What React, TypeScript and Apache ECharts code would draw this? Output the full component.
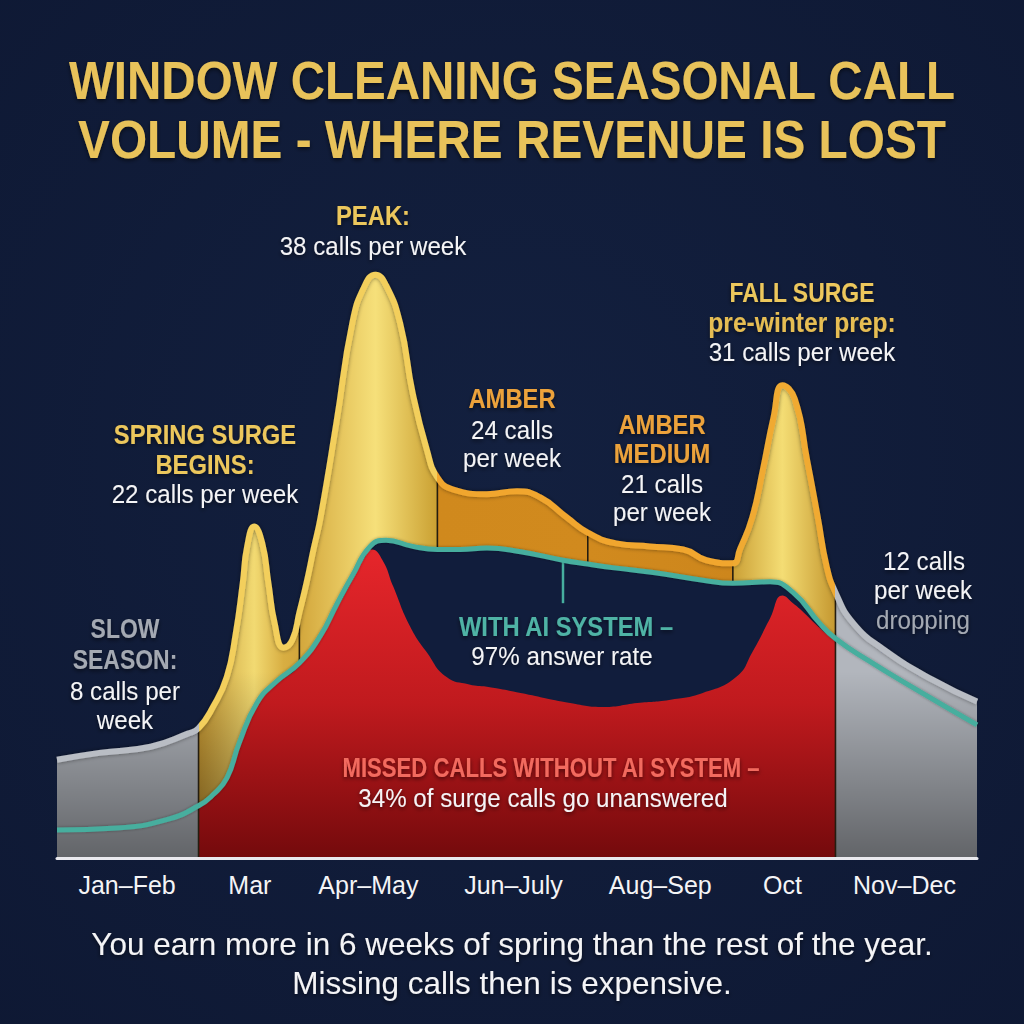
import React, { useEffect, useRef } from "react";
import * as echarts from "echarts";

// ---------- data ----------
const titleLines = ["WINDOW CLEANING SEASONAL CALL", "VOLUME - WHERE REVENUE IS LOST"];
const footerLines = [
  "You earn more in 6 weeks of spring than the rest of the year.",
  "Missing calls then is expensive.",
];

// period labels on the x axis (x = week of year)
const periodLabels = ["Jan–Feb", "Mar", "Apr–May", "Jun–July", "Aug–Sep", "Oct", "Nov–Dec"];
const periodLabelWeeks = [3.96, 10.9, 17.6, 25.8, 34.1, 41.0, 47.9];
// period boundaries (weeks)
const boundaryWeeks = [8, 13.7, 21.5, 30, 38.2, 44];

// total call volume (calls per week)
const totalWeeks = [0, 2.4, 5.3, 7.4, 8, 8.8, 9.6, 10.1, 10.5, 10.75, 11.15, 11.6, 11.95, 12.3, 12.8, 13.3, 13.7, 14.1, 14.5, 14.9, 15.8, 16.7, 17.4, 18.0, 18.6, 19.4, 20.1, 20.9, 21.5, 22.4, 24.3, 26.0, 27.3, 28.8, 30, 31.6, 33.5, 35.4, 36.7, 38.2, 38.6, 39.3, 39.9, 40.5, 41.0, 41.7, 42.4, 43.0, 43.5, 44, 45, 46.7, 49.5, 52];
const totalCalls = [6.4, 6.85, 7.25, 8.1, 8.45, 9.8, 11.8, 14.6, 17.9, 20.3, 21.6, 20.5, 17.9, 15.3, 13.7, 14.2, 16.0, 17.9, 20.1, 22.2, 28.4, 34.9, 37.3, 38.0, 37.3, 34.8, 30.3, 26.6, 24.8, 24.0, 23.7, 23.9, 23.5, 22.2, 21.2, 20.5, 20.3, 20.1, 19.4, 19.2, 20.1, 22.2, 25.3, 28.7, 30.8, 29.9, 25.9, 22.2, 19.0, 17.3, 15.3, 13.6, 11.6, 10.2];

// calls answered with AI system (teal line)
const aiWeeks = [0, 3.4, 6.2, 8, 8.8, 9.6, 10.3, 11.3, 12.4, 13.7, 14.9, 15.8, 16.7, 17.7, 18.6, 20.1, 21.5, 22.8, 24.3, 26.2, 28.6, 30, 31.5, 33.7, 36.5, 38.2, 40.3, 41.6, 43.1, 44, 45.8, 48.6, 52];
const aiCalls = [1.83, 1.96, 2.5, 3.4, 4.1, 5.2, 7.5, 10.1, 11.5, 12.7, 14.5, 16.5, 18.4, 20.3, 20.7, 20.3, 20.1, 20.1, 20.2, 19.95, 19.4, 19.15, 18.9, 18.6, 18.1, 17.9, 18.0, 17.3, 15.3, 14.3, 12.9, 10.95, 8.67];

// missed calls without AI system (red area)
const missedWeeks = [8, 8.8, 9.6, 10.3, 11.3, 12.4, 13.7, 14.9, 15.8, 16.7, 17.4, 17.8, 18.4, 19.0, 19.95, 20.9, 22.0, 23.3, 24.3, 26.2, 29.0, 30.9, 32.8, 34.6, 36.5, 38.4, 39.3, 40.3, 41.0, 41.6, 42.2, 43.1, 44];
const missedCalls = [3.4, 4.1, 5.1, 7.4, 9.9, 11.3, 12.5, 14.3, 16.2, 18.1, 19.6, 20.1, 19.4, 17.7, 15.1, 13.4, 11.8, 11.3, 11.15, 10.75, 10.1, 9.84, 10.1, 10.3, 10.75, 11.8, 13.4, 15.6, 17.1, 16.6, 16.0, 15.0, 14.1];

// pointer from teal line to its label
const pointerWeek = 28.6;
const pointerBottomCalls = 16.6;

// ---------- styling ----------
const FONT = "'Liberation Sans', Arial, sans-serif";
const NAVY = "#111d3c";
const X_MIN = 0;
const X_MAX = 52;

const zip = (xs: number[], ys: number[]) => xs.map((x, i) => [x, ys[i]]);
const valueAt = (xs: number[], ys: number[], x: number) => ys[xs.indexOf(x)];

const GRAY = "#b2b6bd";
const fillStops: [number, string][] = [
  [0, GRAY],
  [8, GRAY],
  [8, "#c29532"],
  [11.15, "#f2da72"],
  [12.8, "#d8ae42"],
  [13.7, "#d3a73c"],
  [18.0, "#f6e07a"],
  [21.5, "#caa032"],
  [21.5, "#d0891d"],
  [30, "#d18a1e"],
  [38.2, "#cd861c"],
  [38.2, "#cba036"],
  [41.0, "#f4dd74"],
  [44, "#c59830"],
  [44, GRAY],
  [52, GRAY],
];

function buildOption() {
  const totalData = zip(totalWeeks, totalCalls);
  const aiData = zip(aiWeeks, aiCalls);
  const missedData = zip(missedWeeks, missedCalls);
  const aiInner = aiData.filter((p) => p[0] >= boundaryWeeks[0] && p[0] <= boundaryWeeks[boundaryWeeks.length - 1]);

  const hGrad = new echarts.graphic.LinearGradient(
    0, 0, 1, 0,
    fillStops.map(([w, c]) => ({ offset: (w - X_MIN) / (X_MAX - X_MIN), color: c }))
  );

  const series: any[] = [];
  const base = { type: "line", symbol: "none", smooth: 0.5, silent: true };

  series.push({
    ...base,
    name: "fill",
    data: totalData,
    lineStyle: { width: 0 },
    areaStyle: { color: hGrad, opacity: 1 },
  });
  series.push({
    ...base,
    name: "shade",
    data: totalData,
    lineStyle: { width: 0 },
    areaStyle: {
      opacity: 1,
      color: new echarts.graphic.LinearGradient(0, 0, 0, 1, [
        { offset: 0, color: "rgba(0,0,0,0)" },
        { offset: 0.68, color: "rgba(0,0,0,0)" },
        { offset: 1, color: "rgba(0,0,0,0.45)" },
      ]),
    },
  });
  series.push({
    ...base,
    name: "answeredGap",
    data: aiInner,
    lineStyle: { width: 0 },
    areaStyle: { color: NAVY, opacity: 1 },
  });
  series.push({
    ...base,
    name: "missed",
    data: missedData,
    lineStyle: { width: 0 },
    areaStyle: {
      opacity: 1,
      color: new echarts.graphic.LinearGradient(0, 0, 0, 1, [
        { offset: 0, color: "#e6262b" },
        { offset: 0.5, color: "#c01a1e" },
        { offset: 1, color: "#740a0c" },
      ]),
    },
  });
  boundaryWeeks.forEach((b, i) => {
    const full = i === 0 || i === boundaryWeeks.length - 1;
    const low = full ? 0 : valueAt(aiWeeks, aiCalls, b);
    const high = valueAt(totalWeeks, totalCalls, b);
    series.push({
      type: "line",
      symbol: "none",
      silent: true,
      data: [[b, low], [b, high]],
      lineStyle: { color: "#241d10", width: 1.6 },
    });
  });
  series.push({
    type: "line",
    symbol: "none",
    silent: true,
    data: [[pointerWeek, valueAt(aiWeeks, aiCalls, pointerWeek)], [pointerWeek, pointerBottomCalls]],
    lineStyle: { color: "#46ae9e", width: 2.5 },
  });
  series.push({
    ...base,
    name: "With AI system",
    data: aiData,
    lineStyle: { color: "#46ae9e", width: 5, shadowBlur: 3, shadowColor: "rgba(0,0,0,0.35)" },
  });
  const strokeIndex = series.length;
  series.push({
    ...base,
    name: "Total calls",
    data: totalData,
    lineStyle: { width: 6, shadowBlur: 4, shadowColor: "rgba(0,0,0,0.45)" },
  });

  const txt = (text: string, x: number, y: number, size: number, fill: string, bold = false, sx = 0.93) => ({
    type: "text",
    x,
    y,
    scaleX: sx,
    silent: true,
    z: 100,
    style: {
      text,
      fill,
      fontSize: size,
      lineHeight: size,
      fontWeight: bold ? "bold" : "normal",
      fontFamily: FONT,
      align: "center",
      verticalAlign: "middle",
      textShadowColor: "rgba(0,0,0,0.55)",
      textShadowBlur: 4,
      textShadowOffsetY: 2,
    },
  });

  const GOLD = "#ecc75c";
  const AMBER = "#eca23a";
  const WHITE = "#f4f4f6";
  const SLATE = "#a4a9b2";
  const TITLE = "#e8c25a";
  const H = 28; // heading size
  const HS = 0.85; // heading horizontal scale
  const B = 26; // body size

  const graphic = [
    txt(titleLines[0], 512, 80, 54, TITLE, true, 0.88),
    txt(titleLines[1], 512, 139, 54, TITLE, true, 0.885),
    txt("PEAK:", 373, 215, H, GOLD, true, HS),
    txt("38 calls per week", 373, 246, B, WHITE),
    txt("SPRING SURGE", 205, 434, H, GOLD, true, HS),
    txt("BEGINS:", 205, 464, H, GOLD, true, HS),
    txt("22 calls per week", 205, 494, B, WHITE),
    txt("SLOW", 125, 628, H, SLATE, true, 0.82),
    txt("SEASON:", 125, 659, H, SLATE, true, 0.82),
    txt("8 calls per", 125, 691, B, WHITE),
    txt("week", 125, 720, B, WHITE),
    txt("AMBER", 512, 398, H, AMBER, true, HS),
    txt("24 calls", 512, 430, B, WHITE),
    txt("per week", 512, 458, B, WHITE),
    txt("AMBER", 662, 424, H, AMBER, true, HS),
    txt("MEDIUM", 662, 453, H, AMBER, true, HS),
    txt("21 calls", 662, 484, B, WHITE),
    txt("per week", 662, 512, B, WHITE),
    txt("FALL SURGE", 802, 292, H, GOLD, true, 0.82),
    txt("pre-winter prep:", 802, 322, 28, "#e6bd52", true, 0.88),
    txt("31 calls per week", 802, 352, B, WHITE),
    txt("12 calls", 924, 561, B, WHITE),
    txt("per week", 923, 590, B, WHITE),
    txt("dropping", 923, 620, B, SLATE),
    txt("WITH AI SYSTEM –", 566, 626, 27, "#4fb3a5", true, 0.88),
    txt("97% answer rate", 562, 656, B, WHITE),
    txt("MISSED CALLS WITHOUT AI SYSTEM –", 551, 768, 27, "#f26b5e", true, 0.82),
    txt("34% of surge calls go unanswered", 543, 798, B, WHITE),
    txt(footerLines[0], 512, 944, 32, WHITE, false, 0.985),
    txt(footerLines[1], 512, 983, 32, WHITE, false, 0.985),
  ];

  return {
    animation: false,
    backgroundColor: {
      type: "radial",
      x: 0.5,
      y: 0.45,
      r: 0.8,
      colorStops: [
        { offset: 0, color: "#13203f" },
        { offset: 1, color: "#0e1833" },
      ],
    },
    grid: { left: 57, right: 47, top: 244, bottom: 166, containLabel: false },
    xAxis: {
      type: "value",
      min: X_MIN,
      max: X_MAX,
      z: 10,
      splitLine: { show: false },
      axisTick: { show: false },
      axisLine: { show: true, lineStyle: { color: "#e9e9ee", width: 3 } },
      axisLabel: {
        customValues: periodLabelWeeks,
        formatter: (v: number) => {
          const i = periodLabelWeeks.findIndex((w) => Math.abs(w - v) < 1e-6);
          return i >= 0 ? periodLabels[i] : "";
        },
        color: WHITE,
        fontSize: 25,
        fontFamily: FONT,
        margin: 14,
      },
    },
    yAxis: {
      type: "value",
      min: 0,
      max: 40,
      show: false,
      splitLine: { show: false },
    },
    visualMap: {
      show: false,
      type: "piecewise",
      dimension: 0,
      seriesIndex: strokeIndex,
      pieces: [
        { lt: 8, color: "#b9bdc4" },
        { gte: 8, lt: 21.5, color: "#f3cf5c" },
        { gte: 21.5, lt: 38.2, color: "#f1a62f" },
        { gte: 38.2, lt: 44, color: "#f0aa33" },
        { gte: 44, color: "#b9bdc4" },
      ],
    },
    series,
    graphic,
  };
}

export default function App() {
  const ref = useRef<HTMLDivElement>(null);
  useEffect(() => {
    if (!ref.current) return;
    const chart = echarts.init(ref.current, undefined, { renderer: "svg" });
    chart.setOption(buildOption() as any);
    return () => chart.dispose();
  }, []);
  return (
    <div
      ref={ref}
      style={{ position: "fixed", left: 0, top: 0, width: 1024, height: 1024, background: "#101b39" }}
    />
  );
}
